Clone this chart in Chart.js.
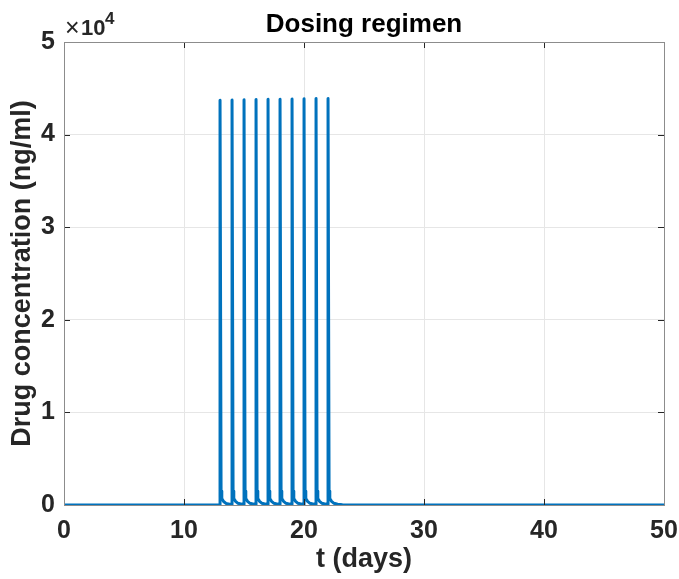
<!DOCTYPE html>
<html>
<head>
<meta charset="utf-8">
<script src="https://cdn.jsdelivr.net/npm/chart.js@4.4.0/dist/chart.umd.min.js"></script>
<style>
  html, body { margin: 0; padding: 0; background: #fff; }
  #wrap { width: 679px; height: 579px; }
</style>
</head>
<body>
<div id="wrap"><canvas id="doseChart" width="679" height="579"></canvas></div>
<script>
// time (days) and drug concentration (ng/ml)
const tDays = [
  0, 13,
  13.003, 13.09, 13.15, 13.3, 13.5, 13.8, 14,
  14.003, 14.09, 14.15, 14.3, 14.5, 14.8, 15,
  15.003, 15.09, 15.15, 15.3, 15.5, 15.8, 16,
  16.003, 16.09, 16.15, 16.3, 16.5, 16.8, 17,
  17.003, 17.09, 17.15, 17.3, 17.5, 17.8, 18,
  18.003, 18.09, 18.15, 18.3, 18.5, 18.8, 19,
  19.003, 19.09, 19.15, 19.3, 19.5, 19.8, 20,
  20.003, 20.09, 20.15, 20.3, 20.5, 20.8, 21,
  21.003, 21.09, 21.15, 21.3, 21.5, 21.8, 22,
  22.003, 22.09, 22.15, 22.3, 22.5, 22.8, 23.2, 24,
  50
];
const concentration = [
  0, 0,
  43700, 1500, 700, 380, 170, 90, 70,
  43740, 1500, 700, 390, 180, 95, 75,
  43770, 1500, 700, 390, 180, 95, 75,
  43790, 1500, 700, 390, 180, 95, 75,
  43810, 1500, 700, 390, 180, 95, 75,
  43830, 1500, 700, 390, 180, 95, 75,
  43850, 1500, 700, 390, 180, 95, 75,
  43870, 1500, 700, 390, 180, 95, 75,
  43890, 1500, 700, 390, 180, 95, 75,
  43910, 1500, 700, 390, 180, 90, 30, 0,
  0
];
const xTicks = [0, 10, 20, 30, 40, 50];
const yTicks = [0, 10000, 20000, 30000, 40000, 50000];

const chartTitle = 'Dosing regimen';
const xLabel = 't (days)';
const yLabel = 'Drug concentration (ng/ml)';
const FONT = '"Liberation Sans", Arial, Helvetica, sans-serif';

// MATLAB-like box, inward ticks, title and the x10^4 multiplier
const matlabAxes = {
  id: 'matlabAxes',
  afterDraw(chart) {
    const { ctx, chartArea: a, scales } = chart;
    ctx.save();
    ctx.strokeStyle = '#262626';
    ctx.lineWidth = 1;
    const tl = 6;
    ctx.beginPath();
    xTicks.forEach(v => {
      const px = Math.round(scales.x.getPixelForValue(v)) + 0.5;
      ctx.moveTo(px, a.bottom); ctx.lineTo(px, a.bottom - tl);
      ctx.moveTo(px, a.top); ctx.lineTo(px, a.top + tl);
    });
    yTicks.forEach(v => {
      const py = Math.round(scales.y.getPixelForValue(v)) + 0.5;
      ctx.moveTo(a.left, py); ctx.lineTo(a.left + tl, py);
      ctx.moveTo(a.right, py); ctx.lineTo(a.right - tl, py);
    });
    ctx.stroke();
    ctx.strokeStyle = '#8c8c8c';
    ctx.strokeRect(Math.round(a.left) + 0.5, Math.round(a.top) + 0.5,
      Math.round(a.right - a.left), Math.round(a.bottom - a.top));

    ctx.fillStyle = '#000';
    ctx.font = 'bold 26px ' + FONT;
    ctx.textAlign = 'center';
    ctx.textBaseline = 'alphabetic';
    ctx.fillText(chartTitle, (a.left + a.right) / 2, 32);

    ctx.fillStyle = '#262626';
    ctx.textAlign = 'left';
    ctx.font = '25px ' + FONT;
    ctx.fillText('\u00d7', 65, 36);
    ctx.font = 'bold 22px ' + FONT;
    ctx.fillText('10', 81, 35);
    ctx.font = 'bold 17px ' + FONT;
    ctx.fillText('4', 105, 24);
    ctx.restore();
  }
};

new Chart(document.getElementById('doseChart').getContext('2d'), {
  type: 'line',
  data: {
    datasets: [{
      data: tDays.map((t, i) => ({ x: t, y: concentration[i] })),
      borderColor: '#0072BD',
      borderWidth: 3,
      borderJoinStyle: 'round',
      pointRadius: 0,
      tension: 0,
      fill: false
    }]
  },
  options: {
    responsive: false,
    animation: false,
    layout: { padding: { top: 42, right: 15, left: 0, bottom: 0 } },
    plugins: { legend: { display: false }, tooltip: { enabled: false } },
    scales: {
      x: {
        type: 'linear',
        min: 0, max: 50,
        afterBuildTicks: s => { s.ticks = xTicks.map(v => ({ value: v })); },
        afterFit: s => { s.height = 74; s.paddingLeft = 0; s.paddingRight = 0; },
        ticks: {
          color: '#262626',
          font: { family: FONT, size: 25, weight: 'bold' },
          padding: 11,
          maxRotation: 0
        },
        grid: { color: '#e6e6e6', drawTicks: false },
        border: { display: false },
        title: {
          display: true,
          text: xLabel,
          color: '#262626',
          font: { family: FONT, size: 27, weight: 'bold' },
          padding: { top: 0, bottom: 3 }
        }
      },
      y: {
        min: 0, max: 50000,
        afterBuildTicks: s => { s.ticks = yTicks.map(v => ({ value: v })); },
        afterFit: s => { s.width = 64; s.paddingTop = 0; s.paddingBottom = 0; },
        ticks: {
          color: '#262626',
          font: { family: FONT, size: 25, weight: 'bold' },
          padding: 9,
          callback: v => String(v / 10000)
        },
        grid: { color: '#e6e6e6', drawTicks: false },
        border: { display: false },
        title: {
          display: true,
          text: yLabel,
          color: '#262626',
          font: { family: FONT, size: 27, weight: 'bold' },
          padding: { top: 6, bottom: 0 }
        }
      }
    }
  },
  plugins: [matlabAxes]
});
</script>
</body>
</html>
